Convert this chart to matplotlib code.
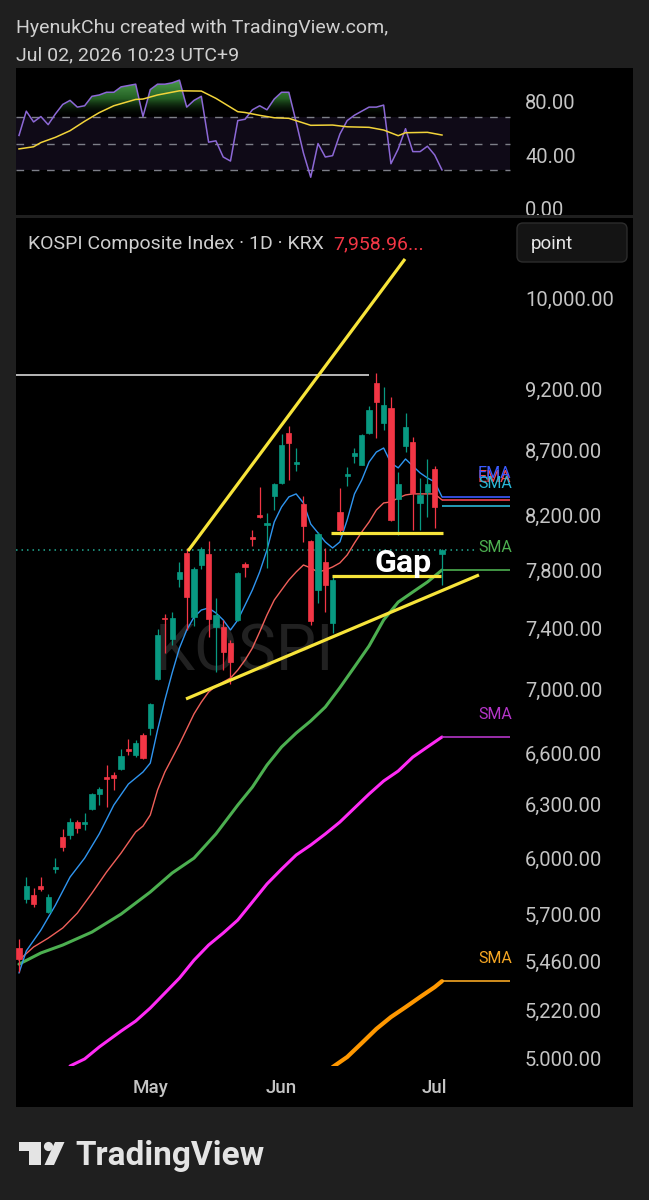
import numpy as np
import matplotlib
matplotlib.use("Agg")
import matplotlib.pyplot as plt
from matplotlib.colors import LinearSegmentedColormap
from matplotlib.patches import FancyBboxPatch, Polygon, Circle
from matplotlib.path import Path
from matplotlib.ticker import NullLocator
from matplotlib.transforms import Bbox, TransformedBbox, blended_transform_factory

plt.rcParams["font.family"] = ["Roboto", "DejaVu Sans"]

W, H = 649, 1200
BG = "#1f1f1f"
UP = "#089981"
DOWN = "#f23645"
TXT = "#c4c4c4"

# daily KOSPI candles, bar 0 .. bar 58 (Jul 02)
opens = [5538, 5790, 5811, 5860, 5723, 5951, 6128, 6139, 6212, 6201,
         6286, 6373, 6472, 6484, 6520, 6640, 6603, 6725, 6768, 7078,
         7482, 7341, 7753, 7939, 7489, 7853, 7932, 7421, 7421, 7314,
         7469, 7860, 8056, 8220, 8145, 8363, 8463, 8858, 8610, 8303,
         8027, 7676, 7875, 7448, 8242, 8517, 8674, 8603, 8858, 9270,
         8939, 9061, 8341, 8753, 8785, 8310, 8394, 8572, 7935]
highs = [5583, 5908, 5849, 5908, 5817, 6011, 6173, 6234, 6223, 6263,
         6380, 6413, 6543, 6502, 6640, 6700, 6694, 6737, 6925, 7408,
         7510, 7523, 7875, 7976, 7839, 7983, 8027, 7620, 7469, 7334,
         7800, 7875, 8108, 8432, 8235, 8460, 8850, 8914, 8737, 8363,
         8035, 8093, 7975, 7768, 8424, 8587, 8737, 8850, 9078, 9355,
         9237, 9153, 8548, 9020, 8825, 8502, 8650, 8595, 7965]
lows = [5418, 5769, 5749, 5833, 5715, 5930, 6050, 6117, 6150, 6167,
        6280, 6309, 6298, 6396, 6515, 6603, 6591, 6580, 6725, 7071,
        7248, 7301, 7697, 7401, 7428, 7824, 7354, 7123, 7136, 7045,
        7462, 7768, 7990, 8197, 7832, 8257, 8455, 8486, 8556, 8020,
        7435, 7585, 7523, 7381, 8071, 8440, 8619, 8600, 8850, 8817,
        8882, 8175, 8071, 8705, 8108, 8108, 8205, 8123, 7711]
closes = [5482, 5860, 5764, 5844, 5801, 5962, 6072, 6212, 6178, 6212,
          6373, 6402, 6460, 6466, 6597, 6628, 6676, 6585, 6918, 7368,
          7475, 7482, 7803, 7627, 7824, 7968, 7475, 7503, 7254, 7188,
          7796, 7839, 8041, 8205, 8160, 8455, 8761, 8777, 8626, 8137,
          7462, 8078, 7711, 7746, 8108, 8533, 8697, 8842, 9045, 9111,
          9086, 8182, 8455, 8906, 8386, 8371, 8455, 8280, 7958.96]

# moving averages (bar index, value)
ema_fast_x = [0, 1, 3, 5, 7, 9, 11, 13, 15, 17] + list(range(18, 59))
ema_fast = [5413, 5523, 5629, 5759, 5908, 6011, 6145, 6309, 6431, 6502,
            6555, 6756, 6943, 7117, 7280, 7401, 7489, 7537, 7551, 7517,
            7469, 7401, 7469, 7571, 7676, 7803, 7961, 8167, 8280, 8356,
            8379, 8310, 8152, 8086, 8020, 7976, 8020, 8182, 8379, 8486,
            8626, 8705, 8737, 8619, 8580, 8650, 8595, 8541, 8502, 8471,
            8356]
ema_slow_x = [0, 2, 4, 6, 8, 10, 12, 14, 16, 17, 18, 19, 20, 21, 22, 23,
              24, 25, 26, 27, 28, 29, 30, 31, 32, 33, 34, 35, 36, 37, 38,
              39, 40, 41, 42, 43, 44, 45, 46, 47, 48, 49, 50, 51, 52, 53,
              54, 56, 57, 58]
ema_slow = [5477, 5543, 5588, 5640, 5717, 5822, 5935, 6039, 6156, 6189,
            6252, 6396, 6502, 6585, 6670, 6762, 6856, 6930, 6994, 7032,
            7058, 7084, 7136, 7201, 7280, 7388, 7503, 7606, 7676, 7746,
            7803, 7853, 7832, 7803, 7817, 7839, 7868, 7925, 8012, 8093,
            8167, 8257, 8310, 8318, 8348, 8371, 8379, 8379, 8379, 8333]
sma_mid_x = [0, 3, 6, 10, 14, 18, 21, 24, 27, 30, 32, 34, 36, 38, 40, 42,
             44, 46, 48, 50, 52, 54, 56, 58]
sma_mid = [5457, 5513, 5553, 5619, 5712, 5828, 5930, 6011, 6145, 6309,
           6413, 6543, 6652, 6737, 6812, 6899, 7022, 7156, 7294, 7469,
           7592, 7662, 7732, 7817]
sma_long_x = [7, 9, 11, 14, 16, 18, 20, 22, 24, 26, 28, 30, 32, 34, 36,
              38, 40, 42, 44, 46, 48, 50, 52, 54, 56, 58]
sma_long = [4973, 5005, 5060, 5134, 5181, 5243, 5315, 5388, 5477, 5553,
            5614, 5681, 5775, 5871, 5951, 6028, 6083, 6145, 6212, 6292,
            6373, 6449, 6508, 6591, 6652, 6713]
sma_vlong_x = [43, 45, 47, 49, 51, 53, 55, 57, 58]
sma_vlong = [4968, 5014, 5078, 5144, 5200, 5247, 5296, 5344, 5373]
sma_short_last = 8287

# RSI(14) and its moving average
rsi = [56, 74, 66, 70, 64, 72, 79, 82, 77, 78,
       85, 86, 88, 88, 92, 93, 94, 70, 90, 94,
       94, 95, 97, 77, 82, 85, 51, 52, 40, 37,
       67, 68, 75, 78, 75, 83, 88, 88, 66, 43,
       25, 50, 40, 41, 57, 67, 71, 74, 77, 77,
       78.5, 35, 46, 61, 44, 44, 48, 41.5, 30.4]
rsi_ma_x = [0, 2, 3, 5, 7, 9, 11, 13, 16, 17, 19, 22, 25, 27, 30, 31, 33,
            35, 37, 40, 43, 45, 48, 50, 52, 53, 56, 58]
rsi_ma = [46, 47.6, 50.7, 54.6, 59.5, 66.5, 72.9, 78, 82.7, 83, 86, 89.1,
          88.9, 83.5, 73.6, 73, 70.9, 69.1, 68.7, 63.5, 63.7, 62.4, 62, 60,
          55.8, 58, 58.3, 56.3]

price_ticks = [10000, 9200, 8700, 8200, 7800, 7400, 7000, 6600, 6300,
               6000, 5700, 5460, 5220, 5000]
rsi_ticks = [80, 40, 0]
month_bars = [18, 36, 57]
month_names = ["May", "Jun", "Jul"]

# hand-drawn objects on the chart
upper_trend = ([23.17, 52.93], [7954, 10381])
lower_trend = ([22.9, 63.07], [6950, 7782])
gap_top = ([42.8, 58.1], [8086, 8086])
gap_bottom = ([42.9, 57.9], [7775, 7775])
resistance = 9339
resistance_end = 48

XLIM = (-0.41, 84.19)
PROJ_END = 67.3
LABEL_X = 62.94


def pane(fig, top, bottom, **kw):
    """Axes placed by pixel rows, spanning the black panel width."""
    ax = fig.add_axes([16 / W, 1 - bottom / H, 617 / W, (bottom - top) / H], **kw)
    ax.set_facecolor("black")
    for s in ax.spines.values():
        s.set_visible(False)
    return ax


def no_ticks(ax):
    """Drop every tick and tick label, major and minor."""
    for axis in (ax.xaxis, ax.yaxis):
        axis.set_major_locator(NullLocator())
        axis.set_minor_locator(NullLocator())


def draw_rsi(ax):
    """RSI pane with band, gradient overbought fill and signal line."""
    bars = np.arange(len(rsi))
    r = np.array(rsi, dtype=float)
    ax.fill_between([XLIM[0], PROJ_END], 30, 70, color="#7e57c2", alpha=0.12, lw=0)
    ax.hlines([70, 50, 30], XLIM[0], PROJ_END, colors="#7d7f88", lw=1,
              linestyles=(0, (5.5, 5.5)))
    ob = ax.fill_between(bars, r, 70, where=r > 70, interpolate=True,
                         color="none", lw=0)
    cmap = LinearSegmentedColormap.from_list(
        "ob", [(0, 0, 0, 0), (0.16, 0.42, 0.16, 0.9), (0.30, 0.62, 0.30, 1)])
    im = ax.imshow(np.linspace(0, 1, 256).reshape(-1, 1), cmap=cmap,
                   extent=(XLIM[0], PROJ_END, 70, 97), origin="lower",
                   aspect="auto", zorder=1)
    im.set_clip_path(Path.make_compound_path(*ob.get_paths()), ax.transData)
    ax.plot(bars, r, color="#8c68d6", lw=1.1, zorder=3)
    ax.plot(rsi_ma_x, rsi_ma, color="#f2d43a", lw=1.1, zorder=3)
    tr = blended_transform_factory(ax.transAxes, ax.transData)
    for v in rsi_ticks:
        ax.text(0.825, v, f"{v:.2f}", transform=tr, color=TXT, fontsize=14.5,
                va="center", ha="left", clip_on=True)
    ax.set_xlim(*XLIM)
    ax.set_ylim(-3, 106)
    no_ticks(ax)


def draw_price(ax):
    """Candles, moving averages, drawings and price scale."""
    ax.set_yscale("log")
    o, h, l, c = (np.array(a, dtype=float) for a in (opens, highs, lows, closes))
    idx = np.arange(len(c))
    col = np.where(c >= o, UP, DOWN)

    ax.text(0.371, 0.488, "KOSPI", transform=ax.transAxes, fontsize=46,
            color="#212121", ha="center", va="center", zorder=0)

    mas = [
        (sma_vlong_x, sma_vlong, "#ff9800", 3.0, "#f5a623", "SMA"),
        (sma_long_x, sma_long, "#ff2bf5", 2.2, "#b435c8", "SMA"),
        (sma_mid_x, sma_mid, "#4caf50", 2.2, "#4caf50", "SMA"),
        (ema_slow_x, ema_slow, "#f0605a", 1.0, "#f0444f", "EMA"),
        (ema_fast_x, ema_fast, "#2f95f0", 1.0, "#3b5bff", "EMA"),
    ]
    clip = TransformedBbox(Bbox([[XLIM[0], 0], [PROJ_END + 0.3, 1]]),
                           blended_transform_factory(ax.transData, ax.transAxes))
    for xs, ys, color, lw, pcol, name in mas:
        ax.plot(xs, ys, color=color, lw=lw, zorder=3, solid_capstyle="round")
        ax.hlines(ys[-1], xs[-1], PROJ_END, colors=pcol, lw=1.2, zorder=3)
        t = ax.annotate(name, (LABEL_X, ys[-1]), xytext=(0, 16.5),
                        textcoords="offset points", color=pcol, fontsize=11.5,
                        ha="left", va="center", zorder=6)
        t.set_clip_box(clip)
        t.set_clip_on(True)
    ax.hlines(sma_short_last, len(c) - 1, PROJ_END, colors="#29b6d6", lw=1.2, zorder=3)
    t = ax.annotate("SMA", (LABEL_X, sma_short_last), xytext=(0, 16),
                    textcoords="offset points", color="#29b6d6", fontsize=11.5,
                    ha="left", va="center", zorder=6)
    t.set_clip_box(clip)
    t.set_clip_on(True)

    ax.vlines(idx, l, h, colors=col, lw=0.9, zorder=4)
    ax.bar(idx, np.abs(c - o), bottom=np.minimum(o, c), width=0.72, color=col,
           edgecolor=col, lw=0.5, zorder=5)

    ax.hlines(closes[-1], XLIM[0], 62.8, colors="#22ab94", lw=1.1,
              linestyles=(0, (1, 2.6)), zorder=2)
    ax.hlines(resistance, XLIM[0], resistance_end, colors="#b8b8b8", lw=1.4, zorder=6)
    for xs, ys in (upper_trend, lower_trend, gap_top, gap_bottom):
        ax.plot(xs, ys, color="#f7e43a", lw=2.3, zorder=7, solid_capstyle="butt")
    ax.text(52.65, 7803, "Gap", color="white", fontsize=23, fontweight="bold",
            ha="center", va="baseline", zorder=8)

    tr = blended_transform_factory(ax.transAxes, ax.transData)
    for v in price_ticks:
        ax.text(0.825, v, f"{v:,.2f}", transform=tr, color=TXT, fontsize=14.5,
                va="center", ha="left", clip_on=True)
    ax.set_xlim(*XLIM)
    ax.set_ylim(4973, 10776)
    no_ticks(ax)


def draw_chrome(fig):
    """Header, legend title, 'point' button and TradingView logo."""
    ui = fig.add_axes([0, 0, 1, 1])
    ui.set_xlim(0, W)
    ui.set_ylim(H, 0)
    ui.axis("off")
    ui.patch.set_visible(False)
    ui.text(16, 33, "HyenukChu created with TradingView.com,", color="#d0d0d0",
            fontsize=14, va="baseline")
    ui.text(16, 60, "Jul 02, 2026 10:23 UTC+9", color="#d0d0d0", fontsize=14,
            va="baseline")
    ui.text(28, 249, "KOSPI Composite Index \u00b7 1D \u00b7 KRX", color="#cfcfcf",
            fontsize=14, va="baseline")
    ui.text(333, 249, f"{closes[-1]:,.2f}...", color=DOWN, fontsize=14,
            va="baseline")
    ui.add_patch(FancyBboxPatch((517, 223), 110, 39,
                                boxstyle="round,pad=0,rounding_size=6",
                                fc="#141414", ec="#2c2c2c", lw=1))
    ui.text(531, 249, "point", color="#e6e6e6", fontsize=13.5, va="baseline")
    logo = "#e4e4e4"
    ui.add_patch(Polygon([(18.6, 1142), (41, 1142), (41, 1165), (29, 1165),
                          (29, 1151), (18.6, 1151)], closed=True, fc=logo, lw=0))
    ui.add_patch(Circle((48.5, 1146.5), 4.6, fc=logo, lw=0))
    ui.add_patch(Polygon([(55, 1142), (64.5, 1142), (54, 1165), (44.5, 1165)],
                         closed=True, fc=logo, lw=0))
    ui.text(75, 1165, "TradingView", color=logo, fontsize=24, fontweight="bold",
            va="baseline")


def main() -> None:
    fig = plt.figure(figsize=(W / 100, H / 100), dpi=100, facecolor=BG)
    ax_rsi = pane(fig, 68, 215)
    ax = pane(fig, 218, 1066)
    ax_t = pane(fig, 1066, 1107, sharex=ax)
    draw_rsi(ax_rsi)
    draw_price(ax)
    tr = blended_transform_factory(ax_t.transData, ax_t.transAxes)
    for b, name in zip(month_bars, month_names):
        ax_t.text(b, 0.47, name, transform=tr, color=TXT, fontsize=13.5,
                  fontweight="medium", ha="center", va="center")
    ax_t.set_xlim(*XLIM)
    no_ticks(ax_t)
    draw_chrome(fig)
    fig.savefig("out.png", dpi=100, facecolor=BG)


if __name__ == "__main__":
    main()
